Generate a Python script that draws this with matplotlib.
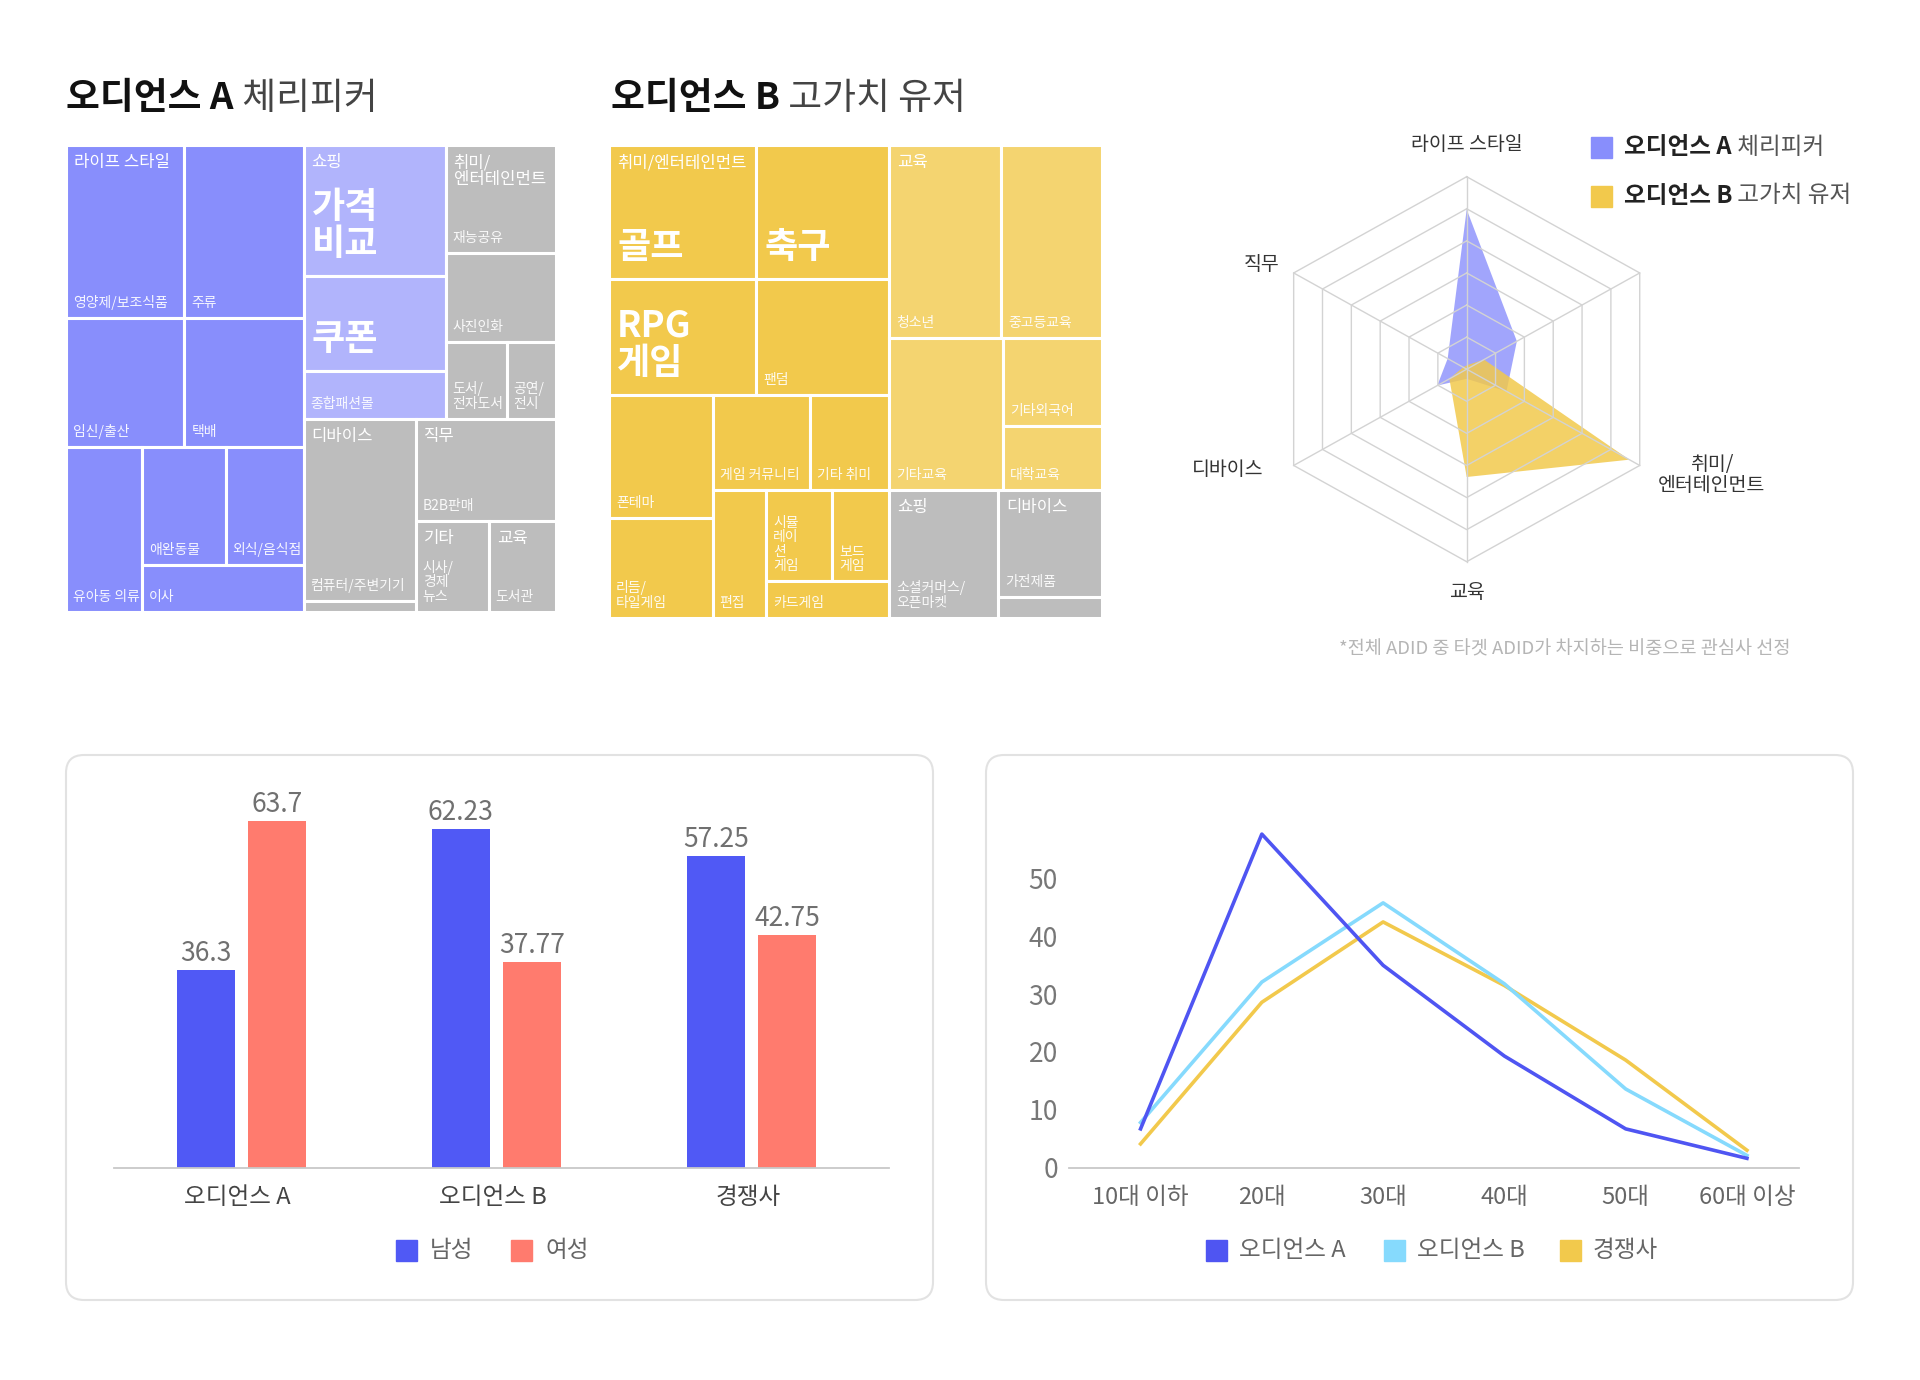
import matplotlib
matplotlib.use('Agg')
import matplotlib.pyplot as plt
from matplotlib.patches import Rectangle, FancyBboxPatch
import numpy as np

plt.rcParams['font.family'] = ['Noto Sans CJK KR', 'DejaVu Sans']

# ---- data ----
# treemap A (area of each cell)
tree_a_vals = [204, 206, 153, 154, 125, 99, 92, 76, 186, 134, 68, 119, 98, 47, 38, 205, 12, 144, 66, 61]
tree_a_subs = ['영양제/보조식품', '주류', '임신/출산', '택배', '유아동 의류', '애완동물', '외식/음식점', '이사',
               '', '', '종합패션몰', '재능공유', '사진인화', '도서/\n전자도서', '공연/\n전시',
               '컴퓨터/주변기기', '', 'B2B판매', '시사/\n경제\n뉴스', '도서관']
tree_a_heads = ['라이프 스타일', None, None, None, None, None, None, None,
                '쇼핑', None, None, '취미/\n엔터테인먼트', None, None, None,
                '디바이스', None, '직무', '기타', '교육']
tree_a_bigs = [None] * 8 + ['가격\n비교', '쿠폰'] + [None] * 10
tree_a_groups = ['life'] * 8 + ['shop'] * 3 + ['other'] * 9
tree_a_split = ('h', [
    ('v', [('h', [0, 1]), ('h', [2, 3]), ('h', [4, ('v', [('h', [5, 6]), 7])])]),
    ('v', [('h', [('v', [8, 9, 10]), ('v', [11, 12, ('h', [13, 14])])]),
           ('h', [('v', [15, 16]), ('v', [17, ('h', [18, 19])])])]),
])

# treemap B
tree_b_vals = [198, 178, 170, 153, 127, 104, 93, 75, 68, 60, 52, 45, 216, 194, 173, 87, 64, 139, 111, 22]
tree_b_subs = ['', '', '', '팬덤', '폰테마', '리듬/\n타일게임', '게임 커뮤니티', '기타 취미', '편집',
               '시뮬\n레이\n션\n게임', '보드\n게임', '카드게임',
               '청소년', '중고등교육', '기타교육', '기타외국어', '대학교육',
               '소셜커머스/\n오픈마켓', '가전제품', '']
tree_b_heads = ['취미/엔터테인먼트'] + [None] * 11 + ['교육', None, None, None, None, '쇼핑', '디바이스', None]
tree_b_bigs = ['골프', '축구', 'RPG\n게임'] + [None] * 17
tree_b_groups = ['hobby'] * 12 + ['edu'] * 5 + ['other'] * 3
tree_b_split = ('h', [
    ('v', [('h', [0, 1]), ('h', [2, 3]),
           ('h', [('v', [4, 5]), ('v', [('h', [6, 7]), ('h', [8, ('v', [('h', [9, 10]), 11])])])])]),
    ('v', [('h', [12, 13]), ('h', [14, ('v', [15, 16])]), ('h', [17, ('v', [18, 19])])]),
])

# radar
radar_cats = ['라이프 스타일', '', '취미/\n엔터테인먼트', '교육', '디바이스', '직무']
radar_a = [0.83, 0.29, 0.23, 0.05, 0.17, 0.11]
radar_b = [0.02, 0.10, 0.94, 0.56, 0.10, 0.02]

# gender bars
bar_groups = ['오디언스 A', '오디언스 B', '경쟁사']
male = [36.3, 62.23, 57.25]
female = [63.7, 37.77, 42.75]

# age lines
ages = ['10대 이하', '20대', '30대', '40대', '50대', '60대 이상']
age_a = [6.7, 57.7, 35.0, 19.3, 6.7, 1.6]
age_b = [7.8, 32.1, 45.8, 31.8, 13.6, 2.1]
age_c = [4.1, 28.6, 42.5, 31.5, 18.6, 3.0]

colors = {'life': '#888efc', 'shop': '#b1b4fc', 'other': '#bdbdbd',
          'hobby': '#f2c94c', 'edu': '#f4d470'}

W, H = 1920, 1380
fig = plt.figure(figsize=(W / 100, H / 100), dpi=100)
fig.patch.set_facecolor('white')


def px_axes(x, y, w, h):
    return fig.add_axes([x / W, 1 - (y + h) / H, w / W, h / H])


bg = px_axes(0, 0, W, H)
bg.set_xlim(0, W)
bg.set_ylim(H, 0)
bg.axis('off')
renderer = fig.canvas.get_renderer()


def rich_text(x, y, parts, size):
    for text, weight, color in parts:
        t = bg.text(x, y, text, fontsize=size, fontweight=weight, color=color, va='center', ha='left')
        x += t.get_window_extent(renderer).width


def node_sum(node, vals):
    if isinstance(node, int):
        return vals[node]
    return sum(node_sum(k, vals) for k in node[1])


def layout(node, vals, x, y, w, h, out):
    if isinstance(node, int):
        out[node] = (x, y, w, h)
        return out
    orient, kids = node
    tot = node_sum(node, vals)
    for k in kids:
        f = node_sum(k, vals) / tot
        if orient == 'h':
            layout(k, vals, x, y, w * f, h, out)
            x += w * f
        else:
            layout(k, vals, x, y, w, h * f, out)
            y += h * f
    return out


def draw_treemap(rect, vals, split, groups, subs, heads, bigs):
    ax = px_axes(*rect)
    w, h = rect[2], rect[3]
    ax.set_xlim(0, w)
    ax.set_ylim(h, 0)
    ax.axis('off')
    boxes = layout(split, vals, 0, 0, w, h, {})
    for i, (x, y, bw, bh) in boxes.items():
        ax.add_patch(Rectangle((x, y), bw, bh, facecolor=colors[groups[i]],
                               edgecolor='white', linewidth=2.2))
        if heads[i]:
            ax.text(x + 8, y + 9, heads[i], fontsize=12, color='white', va='top', ha='left',
                    linespacing=1.0)
        if subs[i]:
            ax.text(x + 7, y + bh - 8, subs[i], fontsize=10, color='white', alpha=0.92,
                    va='bottom', ha='left', linespacing=1.05)
        if bigs[i]:
            ax.text(x + 8, y + bh - 13, bigs[i], fontsize=26, fontweight='bold', color='white',
                    va='bottom', ha='left', linespacing=1.0)


# ---- titles ----
rich_text(66, 99, [('오디언스 A', 'bold', '#111111'), (' 체리피커', 'normal', '#444444')], 26.5)
rich_text(611, 99, [('오디언스 B', 'bold', '#111111'), (' 고가치 유저', 'normal', '#444444')], 26.5)

draw_treemap((66, 145, 490, 467), tree_a_vals, tree_a_split, tree_a_groups,
             tree_a_subs, tree_a_heads, tree_a_bigs)
draw_treemap((609, 145, 493, 473), tree_b_vals, tree_b_split, tree_b_groups,
             tree_b_subs, tree_b_heads, tree_b_bigs)

# ---- radar ----
cx, cy = 1466.7, 369.2
kx, ky = 199.8, 192.5          # px per unit, horizontal / vertical
hw, hh = 280, 260
rad = px_axes(cx - hw, cy - hh, 2 * hw, 2 * hh)
rad.set_xlim(-hw / kx, hw / kx)
rad.set_ylim(-hh / ky, hh / ky)
rad.axis('off')
ang = np.pi / 2 - np.arange(6) * np.pi / 3
ca, sa = np.cos(ang), np.sin(ang)
for k in range(1, 7):
    r = k / 6
    rad.plot(np.append(r * ca, r * ca[0]), np.append(r * sa, r * sa[0]), color='#d3d3d3', lw=1)
for c, s in zip(ca, sa):
    rad.plot([0, c], [0, s], color='#d3d3d3', lw=1)
rad.fill(np.array(radar_a) * ca, np.array(radar_a) * sa, color='#8a8ffc', alpha=0.8, lw=0)
rad.fill(np.array(radar_b) * ca, np.array(radar_b) * sa, color='#f2c94c', alpha=0.85, lw=0)
label_off = [(0, 0.165, 'center'), None, (0.09, -0.05, 'left'), (0, -0.16, 'center'),
             (-0.15, -0.02, 'right'), (-0.07, 0.045, 'right')]
for lab, c, s, lo in zip(radar_cats, ca, sa, label_off):
    if not lab:
        continue
    dx, dy, ha = lo
    rad.text(c + dx, s + dy, lab, ha=ha, va='center', fontsize=14, color='#333333',
             multialignment='center', linespacing=1.0)

for yy, col, parts in [(147, '#888efc', [('오디언스 A', 'bold', '#222222'), (' 체리피커', 'normal', '#555555')]),
                       (196, '#f2c94c', [('오디언스 B', 'bold', '#222222'), (' 고가치 유저', 'normal', '#555555')])]:
    bg.add_patch(Rectangle((1591, yy - 10.5), 21, 21, color=col))
    rich_text(1624, yy, parts, 17)

bg.text(1565, 649, '*전체 ADID 중 타겟 ADID가 차지하는 비중으로 관심사 선정', ha='center', va='center',
        fontsize=13.4, color='#b5b5b5')

# ---- cards ----
for x0 in (66, 986):
    bg.add_patch(FancyBboxPatch((x0, 755), 867, 545, boxstyle='round,pad=0,rounding_size=18',
                                facecolor='white', edgecolor='#e2e2e2', linewidth=1.5))

# ---- bar chart ----
bar = px_axes(114, 786.8, 775.3, 380.8)
xb = np.arange(len(bar_groups))
bw, off = 0.228, 0.14
for vals, col, sh in [(male, '#5059f5', -off), (female, '#ff7b6e', off)]:
    bar.bar(xb + sh, vals, bw, color=col)
    for xi, v in zip(xb + sh, vals):
        bar.annotate(f'{v:g}', (xi, v), xytext=(0, 6.5), textcoords='offset points',
                     ha='center', va='baseline', fontsize=19, color='#707070')
bar.set_ylim(0, 70)
bar.set_xlim(-0.5, 2.54)
for sp in ['top', 'right', 'left']:
    bar.spines[sp].set_visible(False)
bar.spines['bottom'].set_color('#c8c8c8')
bar.spines['bottom'].set_linewidth(1.3)
bar.set_yticks([])
bar.set_xticks(xb - 0.015, bar_groups)
bar.tick_params(axis='x', length=0, pad=13, labelsize=17, labelcolor='#444444')
bar.patch.set_visible(False)

for sx, col, lab in [(396, '#5059f5', '남성'), (511, '#ff7b6e', '여성')]:
    bg.add_patch(Rectangle((sx, 1240), 21, 21, color=col))
    bg.text(sx + 34, 1250.5, lab, fontsize=17, color='#666666', va='center', ha='left')

# ---- line chart ----
ln = px_axes(1069, 820.8, 730.1, 346.8)
xl = np.arange(len(ages))
line_cols = ['#4f55f2', '#86dafd', '#f2c94c']
for vals, col, z in [(age_a, line_cols[0], 3), (age_b, line_cols[1], 2), (age_c, line_cols[2], 1)]:
    ln.plot(xl, vals, color=col, lw=2.6, zorder=z)
ln.set_ylim(0, 60)
ln.set_xlim(-0.59, 5.43)
ln.set_yticks(range(0, 51, 10))
ln.set_xticks(xl, ages)
for sp in ['top', 'right', 'left']:
    ln.spines[sp].set_visible(False)
ln.spines['bottom'].set_color('#c8c8c8')
ln.spines['bottom'].set_linewidth(1.3)
ln.tick_params(axis='x', length=0, pad=13, labelsize=17, labelcolor='#666666')
ln.tick_params(axis='y', length=0, pad=8, labelsize=19, labelcolor='#777777')
ln.patch.set_visible(False)

for sx, col, lab in [(1206, line_cols[0], '오디언스 A'), (1384, line_cols[1], '오디언스 B'),
                     (1560, line_cols[2], '경쟁사')]:
    bg.add_patch(Rectangle((sx, 1240), 21, 21, color=col))
    bg.text(sx + 33, 1250.5, lab, fontsize=17, color='#666666', va='center', ha='left')

fig.savefig('out.png', dpi=100, facecolor='white')
